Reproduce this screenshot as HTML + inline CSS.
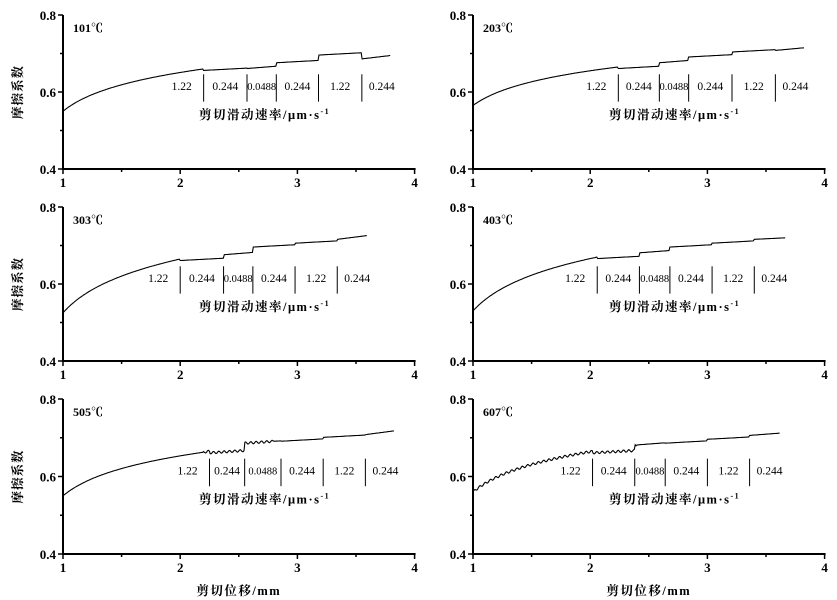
<!DOCTYPE html>
<html><head><meta charset="utf-8"><style>
html,body{margin:0;padding:0;background:#fff;width:837px;height:600px;overflow:hidden}
svg{display:block;font-family:"Liberation Serif","Noto Serif CJK SC",serif}
</style></head><body>
<svg id="s" width="837" height="600" viewBox="0 0 837 600"></svg>
<script>
const P=[
 {t:"101℃",ox:63,oy0:15,oy1:169,s:0.55,e:3.8,ev:0.695,sep:[2.2,2.57,2.82,3.18,3.55],v:[0.66,0.665,0.68,0.70,0.69],saw:null},
 {t:"203℃",ox:473,oy0:15,oy1:169,s:0.565,e:3.83,ev:0.715,sep:[2.24,2.59,2.84,3.21,3.58],v:[0.665,0.68,0.695,0.708,0.712],saw:null},
 {t:"303℃",ox:63,oy0:207,oy1:361,s:0.525,e:3.6,ev:0.726,sep:[2.0,2.37,2.62,2.98,3.34],v:[0.665,0.68,0.70,0.71,0.72],saw:null},
 {t:"403℃",ox:473,oy0:207,oy1:361,s:0.53,e:3.67,ev:0.72,sep:[2.06,2.42,2.68,3.04,3.40],v:[0.67,0.685,0.70,0.71,0.72],saw:null},
 {t:"505℃",ox:63,oy0:399,oy1:554,s:0.55,e:3.83,ev:0.718,sep:[2.25,2.55,2.86,3.22,3.58],v:[0.665,0.69,0.695,0.705,0.712],saw:[2.2,2.8]},
 {t:"607℃",ox:473,oy0:399,oy1:554,s:0.56,e:3.62,ev:0.712,sep:[2.02,2.38,2.64,3.0,3.36],v:[0.665,0.685,0.69,0.70,0.71],saw:[1.0,2.4]}
];
const W=117.2;let h="";
const labs=["1.22","0.244","0.0488","0.244","1.22","0.244"];
P.forEach((p,i)=>{
 const X=x=>p.ox+(x-1)*W, Y=v=>p.oy0+(0.8-v)/0.4*(p.oy1-p.oy0);
 h+=`<line x1="${p.ox}" y1="${p.oy0}" x2="${p.ox}" y2="${p.oy1}" stroke="#000" stroke-width="2"/>`;
 h+=`<line x1="${p.ox-1}" y1="${p.oy1}" x2="${X(4)+1}" y2="${p.oy1}" stroke="#000" stroke-width="2"/>`;
 for(let k=0;k<=6;k++){const x=X(1+k*0.5);h+=`<line x1="${x}" y1="${p.oy1}" x2="${x}" y2="${p.oy1+(k%2?3:5)}" stroke="#000" stroke-width="1.5"/>`;}
 for(let k=0;k<=4;k++){const y=Y(0.4+k*0.1);h+=`<line x1="${p.ox}" y1="${y}" x2="${p.ox-(k%2?3:5)}" y2="${y}" stroke="#000" stroke-width="1.5"/>`;}
 ["0.4","0.6","0.8"].forEach(t=>h+=`<text x="${p.ox-7}" y="${Y(+t)+5}" font-size="13" font-weight="bold" text-anchor="end">${t}</text>`);
 [1,2,3,4].forEach(t=>h+=`<text x="${X(t)}" y="${p.oy1+18}" font-size="13" font-weight="bold" text-anchor="middle">${t}</text>`);
 h+=`<text x="${p.ox+10}" y="${p.oy0+17}" font-size="12" font-weight="bold">${p.t}</text>`;
 const s1=p.sep[0],v1=p.v[0];let d="";
 for(let x=1;x<=p.e;x+=0.008){
  let v;
  if(x<s1){const f=Math.log(1+(x-1)*4)/Math.log(1+(s1-1)*4);v=p.s+(v1-p.s)*f;}
  else{let k=0;while(k<p.sep.length-1&&x>=p.sep[k+1])k++;
   const a=p.sep[k],b=k<p.sep.length-1?p.sep[k+1]:p.e;const va=p.v[k]-0.004,vb=k<p.v.length-1?p.v[k]+0.002:p.ev;
   v=va+(vb-va)*(x-a)/(b-a);}
  if(p.saw&&x>p.saw[0]&&x<p.saw[1])v+=0.003*Math.sin(x*2*Math.PI*22);
  d+=(d?"L":"M")+X(x).toFixed(1)+" "+Y(v).toFixed(1);
 }
 h+=`<path d="${d}" fill="none" stroke="#000" stroke-width="1.1"/>`;
 p.sep.forEach(sx=>h+=`<line x1="${X(sx)}" y1="${Y(0.646)}" x2="${X(sx)}" y2="${Y(0.575)}" stroke="#000" stroke-width="1"/>`);
 for(let k=0;k<6;k++){const cx=k==0?X(p.sep[0])-22:X(p.sep[k-1])+(k==5?20:(X(p.sep[k])-X(p.sep[k-1]))/2);
  h+=`<text x="${cx}" y="${Y(0.605)}" font-size="${k==2?10.5:11.5}" text-anchor="middle">${labs[k]}</text>`;}
 h+=`<text x="${X(2.72)}" y="${Y(0.53)}" font-size="12.5" font-weight="bold" letter-spacing="1.5" text-anchor="middle">剪切滑动速率/μm·s<tspan font-size="8" dy="-5">-1</tspan></text>`;
 if(i%2==0)h+=`<text transform="translate(22 ${Y(0.6)}) rotate(-90)" font-size="12.5" font-weight="bold" letter-spacing="1" text-anchor="middle">摩擦系数</text>`;
 if(i>=4)h+=`<text x="${X(2.5)}" y="595" font-size="12.5" font-weight="bold" letter-spacing="1.5" text-anchor="middle">剪切位移/mm</text>`;
});
document.getElementById("s").innerHTML=h;
</script>
</body></html>
